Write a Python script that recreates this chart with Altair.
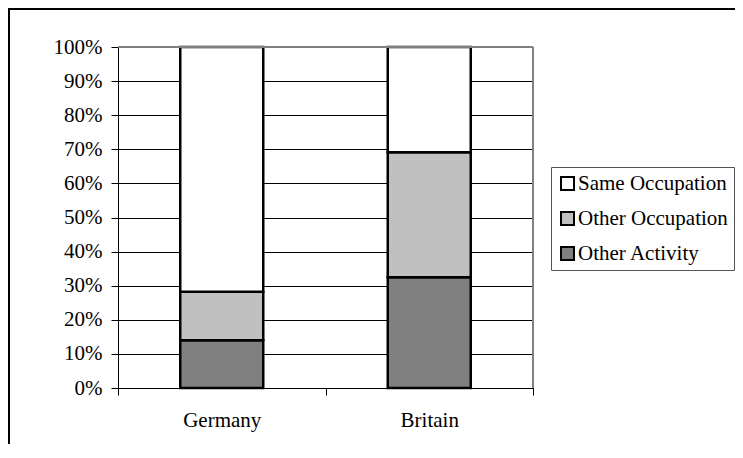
import altair as alt
import pandas as pd

countries = ["Germany", "Britain"]
categories = ["Same Occupation", "Other Occupation", "Other Activity"]
other_activity = [0.140, 0.325]
other_occupation = [0.142, 0.366]
same_occupation = [0.718, 0.309]
colors = ["#FFFFFF", "#C0C0C0", "#808080"]

rows = []
for i, c in enumerate(countries):
    rows.append({"country": c, "category": "Other Activity", "value": other_activity[i], "ord": 0})
    rows.append({"country": c, "category": "Other Occupation", "value": other_occupation[i], "ord": 1})
    rows.append({"country": c, "category": "Same Occupation", "value": same_occupation[i], "ord": 2})
df = pd.DataFrame(rows)

W, H = 415, 341
FONT = "Liberation Serif"

bars = alt.Chart(df).mark_bar(
    width=alt.RelativeBandSize(0.4), stroke="black", strokeWidth=2.5
).encode(
    x=alt.X("country:N", sort=countries, title=None,
            scale=alt.Scale(paddingInner=0, paddingOuter=0),
            axis=alt.Axis(tickBand="extent", labelAngle=0, domainColor="black",
                          tickColor="black", tickSize=7, labelPadding=14,
                          labelFont=FONT, labelFontSize=21, labelColor="black",
                          grid=False)),
    y=alt.Y("value:Q", stack="zero", title=None,
            scale=alt.Scale(domain=[0, 1], nice=False),
            axis=alt.Axis(format=".0%", values=[i / 10 for i in range(11)],
                          domainColor="black", tickColor="black", tickSize=7,
                          labelPadding=9, labelFont=FONT, labelFontSize=21,
                          labelColor="black", grid=True, gridColor="black",
                          gridWidth=1, gridOpacity=1)),
    color=alt.Color("category:N",
                    scale=alt.Scale(domain=categories, range=colors),
                    legend=alt.Legend(title=None, orient="none", legendX=433, legendY=120,
                                      symbolType="square", symbolSize=169,
                                      symbolStrokeColor="black", symbolStrokeWidth=2,
                                      symbolOpacity=1,
                                      labelFont=FONT, labelFontSize=21, labelColor="black",
                                      labelOffset=0, rowPadding=13, padding=6,
                                      strokeColor="#555555", fillColor="white",
                                      labelLimit=400)),
    order=alt.Order("ord:Q"),
)

one = pd.DataFrame({"a": [0]})
border_top = alt.Chart(one).mark_rule(color="#808080", strokeWidth=2).encode(
    x=alt.value(0), x2=alt.value(W), y=alt.value(0))
border_right = alt.Chart(one).mark_rule(color="#808080", strokeWidth=2).encode(
    x=alt.value(W), y=alt.value(0), y2=alt.value(H))
outer_left = alt.Chart(one).mark_rule(color="black", strokeWidth=2).encode(
    x=alt.value(-109), y=alt.value(-39), y2=alt.value(420))
outer_top = alt.Chart(one).mark_rule(color="black", strokeWidth=2).encode(
    x=alt.value(-110), x2=alt.value(640), y=alt.value(-38))

chart = alt.layer(bars, border_top, border_right, outer_left, outer_top).properties(
    width=W, height=H,
    autosize=alt.AutoSizeParams(type="none"),
    padding={"left": 110, "top": 39, "right": 202, "bottom": 56},
).configure_view(stroke=None).configure(background="white")

chart.save("out.html", embed_options={"renderer": "svg", "actions": False})
